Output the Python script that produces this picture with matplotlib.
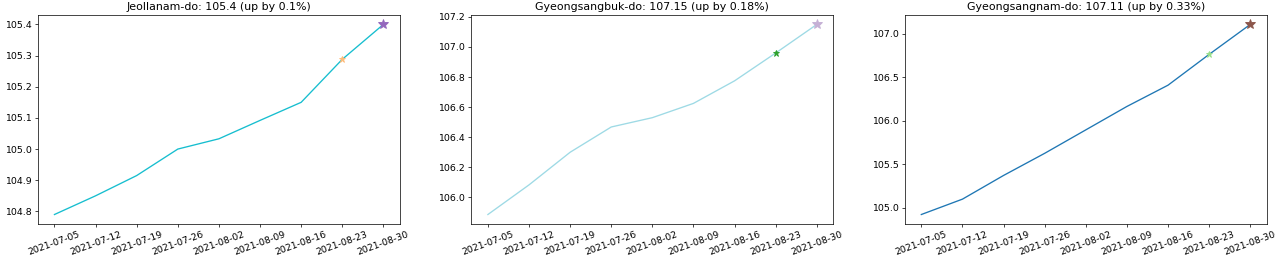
import matplotlib
matplotlib.use("Agg")
import matplotlib.pyplot as plt
import pandas as pd

# недельные даты
dates = pd.to_datetime(["2021-07-05", "2021-07-12", "2021-07-19", "2021-07-26", "2021-08-02",
                        "2021-08-09", "2021-08-16", "2021-08-23", "2021-08-30"])

regions = ["Jeollanam-do", "Gyeongsangbuk-do", "Gyeongsangnam-do"]
titles = ["Jeollanam-do: 105.4 (up by 0.1%)",
          "Gyeongsangbuk-do: 107.15 (up by 0.18%)",
          "Gyeongsangnam-do: 107.11 (up by 0.33%)"]

jeollanam = [104.79, 104.85, 104.915, 105.0, 105.033, 105.092, 105.15, 105.288, 105.40]
gyeongsangbuk = [105.886, 106.083, 106.30, 106.468, 106.53, 106.625, 106.775, 106.96, 107.15]
gyeongsangnam = [104.92, 105.097, 105.37, 105.625, 105.895, 106.165, 106.41, 106.765, 107.11]
series = [jeollanam, gyeongsangbuk, gyeongsangnam]

line_colors = ["#17becf", "#9edae5", "#1f77b4"]
prev_colors = ["#ffbb78", "#2ca02c", "#98df8a"]
last_colors = ["#9467bd", "#c5b0d5", "#8c564b"]

plt.rcParams["xtick.labelsize"] = 10.5
plt.rcParams["ytick.labelsize"] = 10.5

fig, axes = plt.subplots(1, 3, figsize=(20, 262 / 64), dpi=64)
fig.subplots_adjust(left=0.0297, right=0.9896, top=0.943, bottom=0.145, wspace=0.198)

for ax, vals, title, lc, pc, lastc in zip(axes, series, titles, line_colors, prev_colors, last_colors):
    ax.plot(dates, vals, color=lc)
    # предыдущая неделя - маленькая звезда, последняя - большая
    ax.plot(dates[-2], vals[-2], marker="*", color=pc, markersize=7)
    ax.plot(dates[-1], vals[-1], marker="*", color=lastc, markersize=11)
    ax.set_title(title, fontsize=12.4)
    ax.set_xticks(dates)
    ax.set_xticklabels([d.strftime("%Y-%m-%d") for d in dates], rotation=20)

fig.savefig("out.png", dpi=64)
